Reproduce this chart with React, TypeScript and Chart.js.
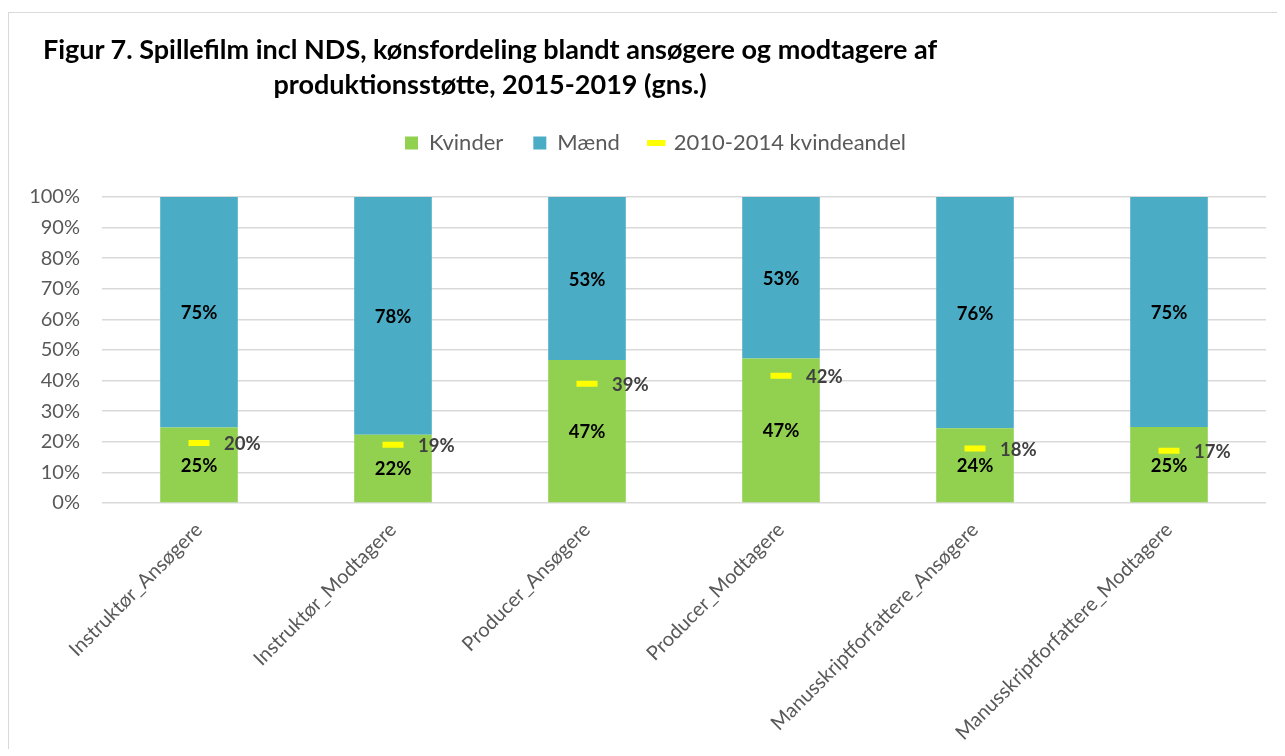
import React, { useEffect, useRef } from "react";
import { Chart, registerables } from "chart.js";

Chart.register(...registerables);

const titleLines = [
  "Figur 7. Spillefilm incl NDS, kønsfordeling blandt ansøgere og modtagere af",
  "produktionsstøtte, 2015-2019 (gns.)",
];
const categories = [
  "Instruktør_Ansøgere",
  "Instruktør_Modtagere",
  "Producer_Ansøgere",
  "Producer_Modtagere",
  "Manusskriptforfattere_Ansøgere",
  "Manusskriptforfattere_Modtagere",
];
const seriesNames = ["Kvinder", "Mænd", "2010-2014 kvindeandel"];
const kvinder = [24.7, 22.3, 46.7, 47.2, 24.4, 24.8];
const maend = [75.3, 77.7, 53.3, 52.8, 75.6, 75.2];
const kvindeandel20102014 = [19.6, 19.0, 39.0, 41.6, 17.8, 17.1];
const yTickValues = [0, 10, 20, 30, 40, 50, 60, 70, 80, 90, 100];

const FONT = "Lato, 'Open Sans', sans-serif";

const valueLabels = {
  id: "valueLabels",
  afterDatasetsDraw(chart: any) {
    const ctx = chart.ctx;
    ctx.save();
    ctx.font = `bold 18.5px ${FONT}`;
    ctx.textBaseline = "middle";
    chart.data.datasets.forEach((ds: any, di: number) => {
      const meta = chart.getDatasetMeta(di);
      if (meta.hidden) return;
      meta.data.forEach((el: any, i: number) => {
        const txt = Math.round(ds.data[i]) + "%";
        if (meta.type === "bar") {
          const p = el.getProps(["x", "y", "base"], true);
          ctx.fillStyle = "#000000";
          ctx.textAlign = "center";
          ctx.fillText(txt, p.x, (p.y + p.base) / 2 + 1);
        } else {
          ctx.fillStyle = "#404040";
          ctx.textAlign = "left";
          ctx.fillText(txt, el.x + 25, el.y + 1);
        }
      });
    });
    ctx.restore();
  },
};

const legendSpacing = {
  id: "legendSpacing",
  beforeInit(chart: any) {
    const orig = chart.legend.fit;
    chart.legend.fit = function () {
      orig.bind(chart.legend)();
      this.height += 33;
    };
  },
  afterLayout(chart: any) {
    chart.legend.left += 18;
    chart.legend.right += 18;
  },
};

export default function App() {
  const canvasRef = useRef<HTMLCanvasElement>(null);

  useEffect(() => {
    document.documentElement.style.overflow = "hidden";
    const chart = new Chart(canvasRef.current!, {
      type: "bar",
      data: {
        labels: categories,
        datasets: [
          {
            type: "bar",
            label: seriesNames[0],
            data: kvinder,
            backgroundColor: "#92D050",
            borderWidth: 0,
            order: 2,
            stack: "s",
            pointStyle: "rect",
          },
          {
            type: "bar",
            label: seriesNames[1],
            data: maend,
            backgroundColor: "#4BACC6",
            borderWidth: 0,
            order: 3,
            stack: "s",
            pointStyle: "rect",
          },
          {
            type: "line",
            label: seriesNames[2],
            data: kvindeandel20102014,
            showLine: false,
            borderColor: "#FFFF00",
            backgroundColor: "#FFFF00",
            pointStyle: "line",
            pointRadius: 10.5,
            pointHoverRadius: 10.5,
            pointBorderWidth: 6,
            pointBorderColor: "#FFFF00",
            order: 1,
            stack: "m",
          } as any,
        ],
      },
      options: {
        animation: false,
        responsive: true,
        maintainAspectRatio: false,
        layout: { padding: { left: 0, right: 19, top: 89, bottom: 0 } },
        events: [],
        plugins: {
          tooltip: { enabled: false },
          title: { display: false },
          legend: {
            position: "top",
            labels: {
              usePointStyle: true,
              boxWidth: 13,
              boxHeight: 13,
              padding: 30,
              color: "#595959",
              font: { family: FONT, size: 22 },
              sort: (a: any, b: any) => a.datasetIndex - b.datasetIndex,
            },
          },
        },
        scales: {
          x: {
            stacked: true,
            grid: { display: false, drawTicks: false },
            border: { display: false },
            ticks: {
              color: "#595959",
              font: { family: FONT, size: 20 },
              maxRotation: 45,
              minRotation: 45,
              autoSkip: false,
              padding: 15,
            },
            afterFit: (s: any) => {
              s.height = 254;
            },
          },
          y: {
            stacked: true,
            min: 0,
            max: 100,
            afterBuildTicks: (s: any) => {
              s.ticks = yTickValues.map((v) => ({ value: v }));
            },
            grid: { color: "#D9D9D9", lineWidth: 1.5, drawTicks: false },
            border: { display: false },
            ticks: {
              color: "#595959",
              font: { family: FONT, size: 20 },
              padding: 22,
              callback: (v: any) => v + "%",
            },
            afterFit: (s: any) => {
              s.width = 93;
            },
          },
        },
        datasets: {
          bar: { barPercentage: 0.4, categoryPercentage: 1 },
        },
      } as any,
      plugins: [valueLabels, legendSpacing],
    });
    return () => chart.destroy();
  }, []);

  return (
    <div
      style={{
        position: "relative",
        marginTop: 4,
        marginBottom: -8,
        width: 1276,
        height: 744,
        borderTop: "1px solid #D9D9D9",
        borderLeft: "1px solid #D9D9D9",
        background: "#fff",
      }}
    >
      <div style={{ position: "absolute", left: 0, top: 0, width: 1276, height: 744 }}>
        <canvas ref={canvasRef} />
      </div>
      <div
        style={{
          position: "absolute",
          left: 0,
          top: 18,
          width: 962,
          textAlign: "center",
          fontFamily: FONT,
          fontWeight: 700,
          fontSize: 27,
          lineHeight: "35px",
          color: "#000",
          whiteSpace: "nowrap",
        }}
      >
        {titleLines.map((t, i) => (
          <div key={i}>{t}</div>
        ))}
      </div>
    </div>
  );
}
